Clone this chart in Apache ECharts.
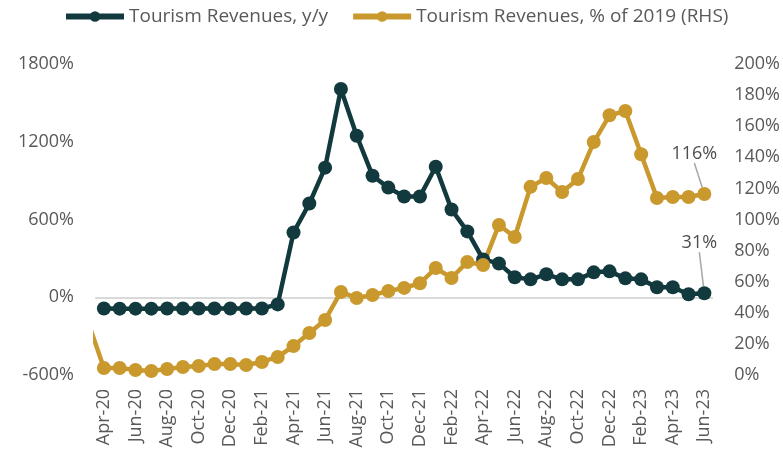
<!DOCTYPE html>
<html>
<head>
<meta charset="utf-8">
<script src="https://cdn.jsdelivr.net/npm/echarts@6/dist/echarts.min.js"></script>
<style>
  html, body { margin: 0; padding: 0; background: #fff; }
  #chart { width: 783px; height: 462px; }
</style>
</head>
<body>
<div id="chart"></div>
<script>
// ==============================
// 데이터
// ==============================

// Mar-20 sits just left of the axis (only its line stub shows)
const months = [
  'Mar-20', 'Apr-20', 'May-20', 'Jun-20', 'Jul-20', 'Aug-20', 'Sep-20', 'Oct-20', 'Nov-20', 'Dec-20',
  'Jan-21', 'Feb-21', 'Mar-21', 'Apr-21', 'May-21', 'Jun-21', 'Jul-21', 'Aug-21', 'Sep-21', 'Oct-21', 'Nov-21', 'Dec-21',
  'Jan-22', 'Feb-22', 'Mar-22', 'Apr-22', 'May-22', 'Jun-22', 'Jul-22', 'Aug-22', 'Sep-22', 'Oct-22', 'Nov-22', 'Dec-22',
  'Jan-23', 'Feb-23', 'Mar-23', 'Apr-23', 'May-23', 'Jun-23'
];

const revenuesYoY = [
  null, -87, -88, -88, -88, -87, -87, -87, -87, -87,
  -87, -87, -55, 500, 723, 1000, 1607, 1246, 938, 846, 777, 777,
  1007, 677, 508, 292, 261, 154, 138, 177, 138, 138, 192, 200,
  146, 138, 77, 77, 23, 31
];

const revenuesPct2019 = [
  34, 4.5, 4.5, 3.2, 2.6, 3.9, 5.1, 5.8, 7.1, 7.1,
  6.4, 8.4, 11.6, 18.6, 27, 35.4, 53.4, 49.5, 51.4, 54, 56, 59,
  68.8, 62.4, 72.7, 70.7, 96.5, 88.7, 121, 126.7, 117.7, 126, 149.8, 167,
  169.8, 142, 113.8, 114.5, 114.5, 116.4
];

const seriesNames = ['Tourism Revenues, y/y', 'Tourism Revenues, % of 2019 (RHS)'];
const lineColors = ['#12393D', '#C9992E'];

const textColor = '#595959';
const fontFamily = 'Open Sans';

// 마지막 값에만 라벨 표시
function lastLabelData(values) {
  return values.map((v, i) => i === values.length - 1
    ? { value: v, label: { show: true }, labelLine: { show: true } }
    : v);
}

// ==============================
// 차트
// ==============================

const chart = echarts.init(document.getElementById('chart'));

function makeSeries(i, values, yAxisIndex, layout) {
  return {
    name: seriesNames[i],
    type: 'line',
    yAxisIndex,
    data: lastLabelData(values),
    symbol: 'circle',
    symbolSize: 14,
    showAllSymbol: true,
    clip: true,
    lineStyle: { color: lineColors[i], width: 4.5 },
    itemStyle: { color: lineColors[i] },
    label: {
      show: false,
      position: 'top',
      color: '#4D4D4D',
      fontFamily,
      fontSize: 18,
      formatter: p => Math.round(p.value) + '%'
    },
    labelLine: {
      show: false,
      lineStyle: { color: '#A6A6A6', width: 1.5 }
    },
    labelLayout: layout,
    emphasis: { disabled: true }
  };
}

const pctLabel = v => v + '%';

chart.setOption({
  animation: false,
  legend: {
    left: 58,
    top: 2,
    itemWidth: 58,
    itemHeight: 13,
    itemGap: 22,
    textStyle: { color: textColor, fontFamily, fontSize: 19 },
    data: seriesNames.map((name, i) => ({
      name,
      itemStyle: { color: lineColors[i] },
      lineStyle: { color: lineColors[i], width: 6 }
    }))
  },
  grid: { left: 96, right: 68, top: 64, bottom: 87 },
  xAxis: [
    {
      type: 'category',
      data: months,
      min: 1,
      boundaryGap: true,
      axisLine: { show: false, onZero: false },
      axisTick: { show: false },
      axisLabel: {
        rotate: 90,
        color: textColor,
        fontFamily,
        fontSize: 18,
        margin: 14,
        interval: idx => idx % 2 === 1
      }
    },
    {
      // 0% 기준선
      type: 'category',
      data: months,
      min: 1,
      position: 'bottom',
      axisLine: { show: true, onZero: true, onZeroAxisIndex: 0, lineStyle: { color: '#D9D9D9', width: 2 } },
      axisTick: { show: false },
      axisLabel: { show: false }
    }
  ],
  yAxis: [
    {
      type: 'value',
      min: -600,
      max: 1800,
      interval: 600,
      splitLine: { show: false },
      axisLine: { show: false },
      axisTick: { show: false },
      axisLabel: { color: textColor, fontFamily, fontSize: 18, margin: 22, formatter: pctLabel }
    },
    {
      type: 'value',
      min: 0,
      max: 200,
      interval: 20,
      splitLine: { show: false },
      axisLine: { show: false },
      axisTick: { show: false },
      axisLabel: { color: textColor, fontFamily, fontSize: 18, margin: 22, formatter: pctLabel }
    }
  ],
  series: [
    makeSeries(0, revenuesYoY, 0, { dx: -5, dy: -29 }),
    makeSeries(1, revenuesPct2019, 1, { dx: -10, dy: -19 })
  ]
});
</script>
</body>
</html>
